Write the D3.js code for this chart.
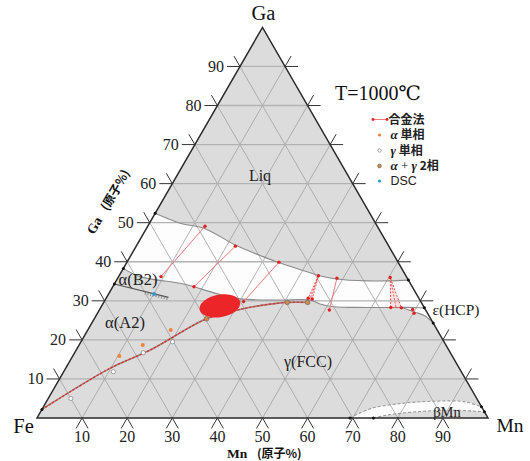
<!DOCTYPE html>
<html>
<head>
<meta charset="utf-8">
<script src="https://cdn.jsdelivr.net/npm/d3@7"></script>
<style>
  body { margin: 0; background: #fff; }
  svg { display: block; }
</style>
</head>
<body>
<svg id="chart" width="530" height="461"></svg>
<script>
// Fe–Mn–Ga isothermal section at 1000 °C.
// Every composition is [Mn at.%, Ga at.%]; Fe is the balance.
const tickValues = [10, 20, 30, 40, 50, 60, 70, 80, 90];

// upper edge of the two-phase band (liquid side)
const liquidus = [[0, 52.4], [7, 49.8], [12.7, 48.6], [22, 44.2], [29, 41.5], [33.7, 39.8],
                  [41, 37.5], [44.2, 36.5], [48.6, 35.6], [55.6, 35.1], [60.3, 35.1], [64.7, 35.3]];
// lower edge of the two-phase band (solid side)
const solidus = [[0, 38.3], [4.7, 36.2], [14.5, 34.5], [17.4, 33.8], [23, 32.1], [29.8, 30.5],
                 [38.8, 30.2], [45.4, 30.2], [48.2, 29.2], [51.4, 28.5], [59, 28.3], [69.3, 28.3], [71.8, 28.2]];
// lower edge of the γ + ε sliver next to the Mn–Ga side
const epsilonEdge = [[66.2, 28.4], [70.3, 27.1], [73, 26.1], [75.7, 24.3]];
// α(B2) / α(A2) ordering line
const b2Boundary = [[0, 34.3], [13.7, 30.9]];
// α / γ boundary
const alphaGamma = [[0, 2.2], [9.8, 12.7], [16.4, 17.4], [24.9, 25.4], [31.1, 27.8],
                    [35.7, 28.9], [40.7, 29.6], [45.2, 29.6]];
// βMn two-phase field near the Mn corner
const betaMnUpper = [[69.4, 0], [72.8, 2.4], [79.5, 3.8], [86, 4.3], [92.5, 4.2], [97.1, 2.9]];
const betaMnLower = [[74.6, 0], [77.5, 0.8], [84.5, 1.7], [91.5, 2.0], [98.4, 1.6]];
// boundary end points on the sides of the triangle
const edgeDots = [[0, 52.4], [0, 38.3], [0, 34.3], [0, 2.2], [64.7, 35.3], [71.8, 28.2],
                  [75.7, 24.3], [97.1, 2.9], [98.4, 1.6], [69.4, 0], [74.6, 0]];

// alloy tie-lines
const tieLines = [
  [[9.4, 36.2], [12.7, 49.1]],
  [[18.0, 33.6], [22.0, 44.0]],
  [[30.9, 29.8], [33.7, 39.9]],
  [[51.0, 27.65], [48.6, 35.8]],
  [[69.4, 27.8], [70.2, 26.8]]
];
const tieTriangles = [
  [[44.2, 36.4], [44.8, 30.65], [45.8, 30.45]],
  [[60.3, 36.0], [64.3, 28.3], [66.7, 28.2]]
];
// single-point measurements
const alphaSingle = [[10.3, 15.9], [14.1, 18.7], [18.4, 22.5]];
const gammaSingle = [[5.0, 5.0], [11.0, 11.85], [15.2, 16.7], [20.3, 19.5]];
const twoPhase = [[24.9, 25.4], [40.7, 29.6], [45.2, 29.6]];
const dscPoints = [[10.1, 31.75]];
const alloyCenter = [26.2, 28.7];

const legendItems = ["合金法", "α 単相", "γ 単相", "α + γ 2相", "DSC"];
const regionLabels = [
  { text: "Liq", x: 260, y: 181, size: 16 },
  { text: "α(B2)", x: 138, y: 285, size: 16.5 },
  { text: "α(A2)", x: 125, y: 328, size: 16.5 },
  { text: "γ(FCC)", x: 308, y: 367, size: 16 },
  { text: "ε(HCP)", x: 456, y: 315, size: 15.5 },
  { text: "βMn", x: 447, y: 417, size: 14.5 }
];

// ---------- ternary projection ----------
const xs = d3.scaleLinear().domain([0, 100]).range([37, 488]);
const ys = d3.scaleLinear().domain([0, 100]).range([418, 27.4]);
const P = ([mn, ga]) => [xs(mn + ga / 2), ys(ga)];

const svg = d3.select("#chart");
const straight = d3.line().x(d => P(d)[0]).y(d => P(d)[1]);
const smooth = d3.line().curve(d3.curveCatmullRom.alpha(0.5)).x(d => P(d)[0]).y(d => P(d)[1]);
const cont = pts => smooth(pts).replace(/^M/, "L");

const SERIF = "'Liberation Serif', 'DejaVu Serif', serif";
const CJK = "'Noto Sans CJK JP', 'Noto Sans CJK SC', sans-serif";

// triangle background
const corners = [[0, 0], [100, 0], [0, 100]];
svg.append("path").attr("d", straight(corners) + "Z").attr("fill", "#dcdcdc");

// two-phase fields (white)
const white = "#fdfdfd";
svg.append("path")
  .attr("d", smooth(liquidus) + cont(solidus.slice().reverse()) + "Z")
  .attr("fill", white);
svg.append("path")
  .attr("d", smooth(epsilonEdge) + "L" + P([71.8, 28.2]).join(",") + "L" + P([69.3, 28.3]).join(",") + "Z")
  .attr("fill", white);
svg.append("path")
  .attr("d", smooth(betaMnUpper) + cont(betaMnLower.slice().reverse()) + "Z")
  .attr("fill", white);

// grid
const grid = svg.append("g").attr("fill", "none");
tickValues.forEach(t => {
  grid.append("path").attr("d", straight([[0, t], [100 - t, t]]))
    .attr("stroke", "#b2b2b2").attr("stroke-width", 1.3);
  grid.append("path").attr("d", straight([[t, 0], [t, 100 - t]]))
    .attr("stroke", "#a0a0a0").attr("stroke-width", 0.8);
  grid.append("path").attr("d", straight([[100 - t, 0], [0, 100 - t]]))
    .attr("stroke", "#a0a0a0").attr("stroke-width", 0.8);
});

// phase boundaries
const bnd = svg.append("g").attr("fill", "none").attr("stroke", "#8c8c8c").attr("stroke-width", 1.1);
bnd.append("path").attr("d", smooth(liquidus));
bnd.append("path").attr("d", smooth(solidus));
bnd.append("path").attr("d", smooth(epsilonEdge));
bnd.append("path").attr("d", smooth(betaMnUpper)).attr("stroke-dasharray", "3,2").attr("stroke", "#9a9a9a");
bnd.append("path").attr("d", smooth(betaMnLower)).attr("stroke-dasharray", "3,2").attr("stroke", "#9a9a9a");

// α(B2)/α(A2) line with hatching underneath
svg.append("path").attr("d", straight(b2Boundary))
  .attr("stroke", "#555").attr("stroke-width", 1.2).attr("fill", "none");
{
  const [a, b] = b2Boundary.map(P);
  const len = Math.hypot(b[0] - a[0], b[1] - a[1]);
  const nx = -(b[1] - a[1]) / len, ny = (b[0] - a[0]) / len; // normal pointing down
  d3.range(0.58, 1.001, 0.05).forEach(f => {
    const px = a[0] + (b[0] - a[0]) * f, py = a[1] + (b[1] - a[1]) * f;
    svg.append("line").attr("x1", px).attr("y1", py)
      .attr("x2", px + nx * 3).attr("y2", py + ny * 3)
      .attr("stroke", "#666").attr("stroke-width", 0.7);
  });
}

// α / γ boundary: grey line with red dashes
svg.append("path").attr("d", smooth(alphaGamma))
  .attr("fill", "none").attr("stroke", "#8f8a86").attr("stroke-width", 1.6);
svg.append("path").attr("d", smooth(alphaGamma))
  .attr("fill", "none").attr("stroke", "#e62f2a").attr("stroke-width", 1.3).attr("stroke-dasharray", "2.5,1.5");

// triangle outline
svg.append("path").attr("d", straight(corners) + "Z")
  .attr("fill", "none").attr("stroke", "#2a2a2a").attr("stroke-width", 1.5);

// ticks on all three sides
const TL = 13, TS = 12, c60 = 0.5, s60 = Math.sqrt(3) / 2;
const tk = svg.append("g").attr("stroke", "#333").attr("stroke-width", 1);
tickValues.forEach(t => {
  const [lx, ly] = P([0, t]);            // Fe–Ga side
  tk.append("line").attr("x1", lx).attr("y1", ly).attr("x2", lx - TL).attr("y2", ly);
  tk.append("line").attr("x1", lx).attr("y1", ly).attr("x2", lx - TS * c60).attr("y2", ly - TS * s60);
  const [bx, by] = P([t, 0]);            // Fe–Mn side
  tk.append("line").attr("x1", bx).attr("y1", by).attr("x2", bx - TS * c60).attr("y2", by + TS * s60);
  tk.append("line").attr("x1", bx).attr("y1", by).attr("x2", bx + TS * c60).attr("y2", by + TS * s60);
  const [rx, ry] = P([100 - t, t]);      // Mn–Ga side
  tk.append("line").attr("x1", rx).attr("y1", ry).attr("x2", rx + TL).attr("y2", ry);
  tk.append("line").attr("x1", rx).attr("y1", ry).attr("x2", rx + TS * c60).attr("y2", ry - TS * s60);
});

// tick labels
tickValues.forEach(t => {
  const [lx, ly] = P([0, t]);
  svg.append("text").attr("x", lx - TL - 3).attr("y", ly + 5.5)
    .attr("text-anchor", "end").attr("font-family", SERIF).attr("font-size", 16).attr("fill", "#222").text(t);
  const [bx, by] = P([t, 0]);
  svg.append("text").attr("x", bx).attr("y", by + 24)
    .attr("text-anchor", "middle").attr("font-family", SERIF).attr("font-size", 16).attr("fill", "#222").text(t);
});

// boundary end dots
svg.append("g").selectAll("circle").data(edgeDots).join("circle")
  .attr("cx", d => P(d)[0]).attr("cy", d => P(d)[1]).attr("r", 1.5).attr("fill", "#111");

// tie-lines
const tie = svg.append("g");
tieLines.forEach(pair => {
  tie.append("path").attr("d", straight(pair)).attr("stroke", "#f07a7a").attr("stroke-width", 1).attr("fill", "none");
});
tieTriangles.forEach(tri => {
  tie.append("path").attr("d", straight(tri) + "Z")
    .attr("fill", "rgba(240,110,110,0.18)").attr("stroke", "#e85050")
    .attr("stroke-width", 1).attr("stroke-dasharray", "2,1.5");
  const mid = [(tri[1][0] + tri[2][0]) / 2, (tri[1][1] + tri[2][1]) / 2];
  tie.append("path").attr("d", straight([tri[0], mid]))
    .attr("stroke", "#e85050").attr("stroke-width", 0.9).attr("stroke-dasharray", "2,1.5").attr("fill", "none");
});
const tieEnds = tieLines.flat().concat(tieTriangles.flat());
tie.selectAll("circle").data(tieEnds).join("circle")
  .attr("cx", d => P(d)[0]).attr("cy", d => P(d)[1]).attr("r", 1.7).attr("fill", "#e21f1f");

// bulk alloy composition
{
  const [cx, cy] = P(alloyCenter);
  svg.append("ellipse").attr("cx", cx).attr("cy", cy).attr("rx", 20.6).attr("ry", 11.2)
    .attr("transform", `rotate(-10 ${cx} ${cy})`).attr("fill", "#ec2628");
}

// measured points
svg.append("g").selectAll("circle").data(alphaSingle).join("circle")
  .attr("cx", d => P(d)[0]).attr("cy", d => P(d)[1]).attr("r", 2).attr("fill", "#f2813a");
svg.append("g").selectAll("circle").data(gammaSingle).join("circle")
  .attr("cx", d => P(d)[0]).attr("cy", d => P(d)[1]).attr("r", 2.1)
  .attr("fill", "#fff").attr("stroke", "#8d8d8d").attr("stroke-width", 0.8);
svg.append("g").selectAll("circle").data(twoPhase).join("circle")
  .attr("cx", d => P(d)[0]).attr("cy", d => P(d)[1]).attr("r", 2.3)
  .attr("fill", "#d4894a").attr("stroke", "#7d7068").attr("stroke-width", 0.8);
svg.append("g").selectAll("circle").data(dscPoints).join("circle")
  .attr("cx", d => P(d)[0]).attr("cy", d => P(d)[1]).attr("r", 2).attr("fill", "#2d9ad6");

// corner names
const corner = (txt, x, y, size) => svg.append("text").attr("x", x).attr("y", y)
  .attr("text-anchor", "middle").attr("font-family", SERIF).attr("font-size", size).attr("fill", "#111").text(txt);
corner("Ga", 263.5, 20, 20.5);
corner("Fe", 23.5, 433, 20.5);
corner("Mn", 510, 432, 19.5);

// temperature
svg.append("text").attr("x", 335).attr("y", 100).attr("font-family", SERIF)
  .attr("font-size", 20).attr("fill", "#111").text("T=1000℃");

// region labels
regionLabels.forEach(r => {
  svg.append("text").attr("x", r.x).attr("y", r.y).attr("text-anchor", "middle")
    .attr("font-family", SERIF).attr("font-size", r.size).attr("fill", "#222").text(r.text);
});

// axis titles
{
  const t = svg.append("text").attr("x", 227).attr("y", 457.5).attr("fill", "#111").attr("font-weight", "bold");
  t.append("tspan").attr("font-family", SERIF).attr("font-size", 13.5).text("Mn");
  t.append("tspan").attr("x", 257).attr("font-family", CJK).attr("font-size", 12).text("(原子%)");

  const l = svg.append("text").attr("transform", "translate(112,204) rotate(-60)")
    .attr("text-anchor", "middle").attr("fill", "#111").attr("font-weight", "bold");
  l.append("tspan").attr("font-family", SERIF).attr("font-size", 13.5).text("Ga");
  l.append("tspan").attr("font-family", CJK).attr("font-size", 12).attr("dx", 10).text("(原子%)");
}

// legend
{
  const lg = svg.append("g");
  const rowY = [119.5, 135, 150.5, 166, 181];
  lg.append("line").attr("x1", 373).attr("x2", 387).attr("y1", rowY[0]).attr("y2", rowY[0])
    .attr("stroke", "#f07a7a").attr("stroke-width", 1);
  [373, 387].forEach(x => lg.append("circle").attr("cx", x).attr("cy", rowY[0]).attr("r", 1.4).attr("fill", "#e21f1f"));
  lg.append("circle").attr("cx", 379.5).attr("cy", rowY[1]).attr("r", 1.6).attr("fill", "#f2813a");
  lg.append("circle").attr("cx", 379.5).attr("cy", rowY[2]).attr("r", 1.7).attr("fill", "#fff").attr("stroke", "#8d8d8d").attr("stroke-width", 0.8);
  lg.append("circle").attr("cx", 379.5).attr("cy", rowY[3]).attr("r", 1.9).attr("fill", "#d4894a").attr("stroke", "#7d7068").attr("stroke-width", 0.7);
  lg.append("circle").attr("cx", 379.5).attr("cy", rowY[4]).attr("r", 1.6).attr("fill", "#2d9ad6");

  legendItems.forEach((txt, i) => {
    const t = lg.append("text").attr("x", i === 0 ? 388.5 : 390.5).attr("y", rowY[i] + 4.2)
      .attr("font-size", 12).attr("font-weight", "bold").attr("fill", "#222");
    if (txt.startsWith("α") || txt.startsWith("γ")) {
      txt.split(" ").forEach((p, j) => {
        const greek = p === "α" || p === "γ";
        const sp = t.append("tspan").text((j ? " " : "") + p);
        if (greek) sp.attr("font-family", SERIF).attr("font-style", "italic").attr("font-size", 13);
        else if (p === "+") sp.attr("font-family", SERIF).attr("font-weight", "normal").attr("font-size", 13);
        else sp.attr("font-family", CJK);
      });
    } else if (txt === "DSC") {
      t.attr("font-family", "'Liberation Sans', Arial, sans-serif").attr("font-weight", "normal").attr("font-size", 12.5).text(txt);
    } else {
      t.attr("font-family", CJK).text(txt);
    }
  });
}
</script>
</body>
</html>
